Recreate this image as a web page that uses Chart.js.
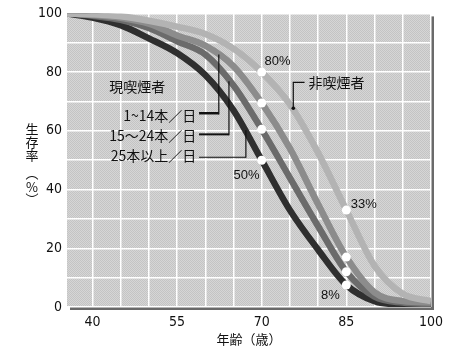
<!DOCTYPE html>
<html>
<head>
<meta charset="utf-8">
<script src="https://cdn.jsdelivr.net/npm/chart.js@4"></script>
<style>
  html, body { margin: 0; padding: 0; background: #fff; }
  #wrap { width: 450px; height: 351px; }
</style>
</head>
<body>
<div id="wrap"><canvas id="chart" width="450" height="351"></canvas></div>
<script>
// 年齢 (歳)
const ages = [35.5, 40, 45, 50, 55, 60, 65, 70, 75, 80, 85, 90, 95, 100];
// 生存率 (%)
const nonSmoker = [100, 99.7, 99, 97.5, 95.5, 93, 88, 80, 69, 52.5, 33, 14, 4.5, 2];
const smoker1to14 = [100, 99.5, 98.5, 96.5, 92.5, 89, 82, 69.5, 54, 35, 17, 5, 2, 1.5];
const smoker15to24 = [100, 99.2, 97.8, 95, 90.5, 86, 75.5, 60.5, 44, 27.5, 12, 3.5, 1.5, 1];
const smoker25plus = [100, 98.6, 96, 91.5, 86.5, 79, 67, 50, 33, 19.5, 7.5, 2, 0.8, 0.5];

const markerAges = [70, 85];
const xGridTicks = [40, 45, 50, 55, 60, 65, 70, 75, 80, 85, 90, 95, 100];
const xTickLabels = [40, 55, 70, 85, 100];
const yTickLabels = [0, 20, 40, 60, 80, 100];

const NUM_FONT = '"Liberation Sans Narrow", "DejaVu Sans Condensed", "Liberation Sans", sans-serif';
const LABEL_FONT = '"Liberation Sans", sans-serif';
const JP_FONT = '"Noto Sans CJK JP", "Noto Sans CJK SC", sans-serif';

function series(label, values, color) {
    return {
        label: label,
        data: ages.map((a, i) => ({ x: a, y: values[i] })),
        borderColor: color,
        borderWidth: 6.5,
        borderCapStyle: "butt",
        cubicInterpolationMode: "monotone",
        pointRadius: ctx => (markerAges.includes(ctx.raw.x) ? 4.5 : 0),
        pointBackgroundColor: "#ffffff",
        pointBorderWidth: 0,
        fill: false,
    };
}

// 背景 (灰色の点描) と影
const backgroundPlugin = {
    id: "plotBackground",
    beforeDraw(chart) {
        const { ctx, chartArea: a } = chart;
        const pc = document.createElement("canvas");
        pc.width = 2; pc.height = 2;
        const p = pc.getContext("2d");
        p.fillStyle = "#d6d6d6"; p.fillRect(0, 0, 2, 2);
        p.fillStyle = "#c4c4c4"; p.fillRect(0, 0, 1, 1); p.fillRect(1, 1, 1, 1);
        ctx.save();
        ctx.fillStyle = "#6a6a6a";
        ctx.fillRect(a.left + 3, a.bottom, a.right - a.left, 3);
        ctx.fillRect(a.right, a.top + 3, 3, a.bottom - a.top);
        ctx.fillStyle = ctx.createPattern(pc, "repeat");
        ctx.fillRect(a.left, a.top, a.right - a.left, a.bottom - a.top);
        ctx.restore();
    },
};

// 注記と引出線
const notesPlugin = {
    id: "notes",
    afterDatasetsDraw(chart) {
        const { ctx } = chart;
        const xs = chart.scales.x, ys = chart.scales.y;
        const X = v => xs.getPixelForValue(v);
        const Y = v => ys.getPixelForValue(v);

        ctx.save();
        ctx.fillStyle = "#111";
        ctx.textBaseline = "middle";

        // percentages
        ctx.font = "13px " + LABEL_FONT;
        ctx.textAlign = "left";
        ctx.fillText("80%", X(70.5), Y(83.5));
        ctx.fillText("50%", X(65.0), Y(44.9));
        ctx.fillText("33%", X(85.8), Y(35));
        ctx.fillText("8%", X(80.5), Y(4.1));

        // group labels
        ctx.font = "14px " + JP_FONT;
        ctx.fillText("現喫煙者", X(43.0), Y(75.2));
        ctx.fillText("非喫煙者", X(78.3), Y(76.5));

        ctx.textAlign = "right";
        ctx.fillText("1~14本／日", X(58.4), Y(65.3));
        ctx.fillText("15～24本／日", X(58.4), Y(58.5));
        ctx.fillText("25本以上／日", X(58.4), Y(51.4));

        // leader lines
        ctx.strokeStyle = "#111";
        const leader = (y0, xEnd, yTop, w) => {
            ctx.beginPath();
            ctx.lineWidth = w;
            ctx.moveTo(X(58.9), Y(y0));
            ctx.lineTo(X(xEnd), Y(y0));
            ctx.stroke();
            ctx.beginPath();
            ctx.lineWidth = 1.2;
            ctx.moveTo(X(xEnd), Y(y0) + w / 2);
            ctx.lineTo(X(xEnd), Y(yTop));
            ctx.stroke();
        };
        leader(66, 62.4, 86, 2.5);
        leader(58.8, 64.2, 76.9, 2);
        leader(51, 67.2, 60.2, 1.2);

        // non-smoker leader
        ctx.lineWidth = 1.2;
        ctx.beginPath();
        ctx.moveTo(X(75.6), Y(67.7));
        ctx.lineTo(X(75.6), Y(76.5));
        ctx.lineTo(X(77.6), Y(76.5));
        ctx.stroke();
        ctx.beginPath();
        ctx.arc(X(75.6), Y(67.7), 1.8, 0, Math.PI * 2);
        ctx.fill();
        ctx.restore();
    },
    afterDraw(chart) {
        const { ctx, chartArea: a } = chart;
        ctx.save();
        ctx.fillStyle = "#111";
        ctx.textAlign = "center";
        ctx.textBaseline = "middle";
        ctx.font = "13px " + JP_FONT;
        ctx.fillText("年齢（歳）", (a.left + a.right) / 2, 339);
        // 縦書きの軸タイトル
        const chars = ["生", "存", "率", "︵", "%", "︶"];
        const ypos = [129, 142, 155, 173, 187, 199];
        chars.forEach((c, i) => ctx.fillText(c, 32, ypos[i]));
        ctx.restore();
    },
};

const chart = new Chart(document.getElementById("chart").getContext("2d"), {
    type: "line",
    data: {
        datasets: [
            series("非喫煙者", nonSmoker, "#b3b3b3"),
            series("1~14本／日", smoker1to14, "#8c8c8c"),
            series("15～24本／日", smoker15to24, "#6b6b6b"),
            series("25本以上／日", smoker25plus, "#2f2f2f"),
        ],
    },
    options: {
        responsive: false,
        animation: false,
        layout: { padding: { top: 13, right: 17, left: 0, bottom: 0 } },
        plugins: { legend: { display: false }, tooltip: { enabled: false } },
        scales: {
            x: {
                type: "linear",
                min: 35.5,
                max: 100,
                afterBuildTicks: scale => { scale.ticks = xGridTicks.map(v => ({ value: v })); },
                afterFit: scale => { scale.height = 44; },
                grid: { color: "#ffffff", lineWidth: 1.5, drawTicks: false },
                border: { display: false },
                ticks: {
                    padding: 7,
                    maxRotation: 0,
                    autoSkip: false,
                    color: "#111",
                    font: { family: NUM_FONT, size: 14 },
                    callback: v => (xTickLabels.includes(v) ? String(v) : ""),
                },
            },
            y: {
                min: 0,
                max: 100,
                ticks: {
                    stepSize: 10,
                    padding: 5,
                    color: "#111",
                    font: { family: NUM_FONT, size: 14 },
                    callback: v => (yTickLabels.includes(v) ? String(v) : ""),
                },
                afterFit: scale => { scale.width = 67; },
                grid: { color: "#ffffff", lineWidth: 1.5, drawTicks: false },
                border: { display: false },
            },
        },
    },
    plugins: [backgroundPlugin, notesPlugin],
});
</script>
</body>
</html>
